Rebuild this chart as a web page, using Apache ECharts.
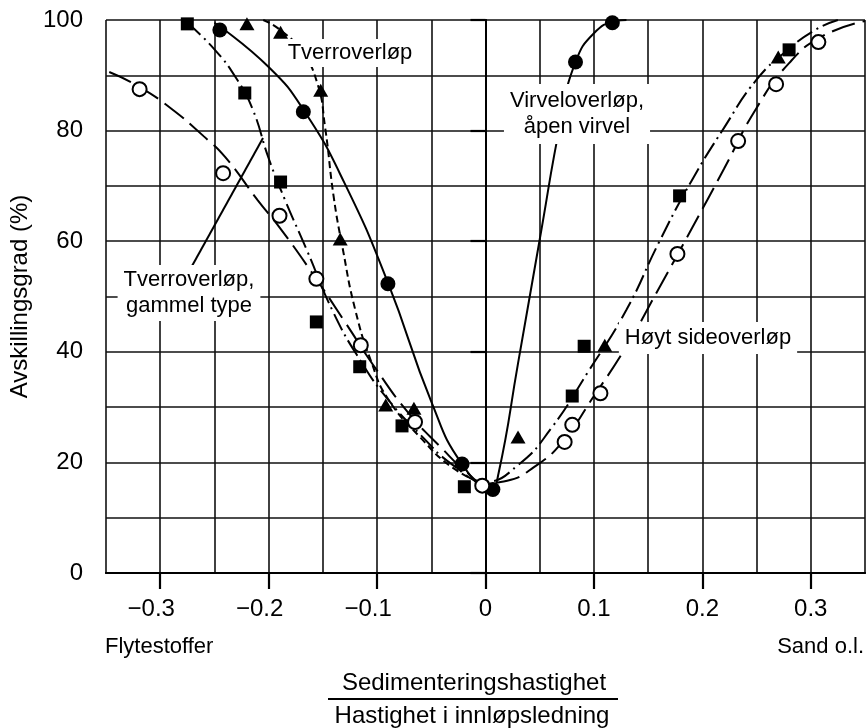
<!DOCTYPE html>
<html>
<head>
<meta charset="utf-8">
<script src="https://cdn.jsdelivr.net/npm/echarts@6/dist/echarts.min.js"></script>
<style>
html, body { margin: 0; padding: 0; background: #fff; }
#chart { width: 866px; height: 728px; }
</style>
</head>
<body>
<div id="chart"></div>
<script>
var FONT = "'Liberation Sans', Arial, Helvetica, sans-serif";

/* målepunkter (markører) */
var virvelX = [-0.245, -0.168, -0.090, -0.0216, 0.0068, 0.083, 0.117];
var virvelY = [98.2, 83.4, 52.3, 19.7, 15.1, 92.4, 99.5];
var tverrX = [-0.220, -0.189, -0.152, -0.134, -0.092, -0.066, 0.030, 0.110, 0.270];
var tverrY = [99.3, 97.8, 87.3, 60.4, 30.4, 29.8, 24.6, 41.2, 93.3];
var gammelX = [-0.275, -0.222, -0.189, -0.156, -0.116, -0.077, -0.0195, 0.080, 0.091, 0.179, 0.280];
var gammelY = [99.3, 86.8, 70.7, 45.4, 37.3, 26.6, 15.6, 32.0, 41.0, 68.2, 94.6];
var hoytX = [-0.319, -0.242, -0.190, -0.156, -0.115, -0.065, -0.003, 0.073, 0.080, 0.106, 0.177, 0.233, 0.268, 0.307];
var hoytY = [87.5, 72.3, 64.6, 53.2, 41.2, 27.3, 15.8, 23.7, 26.8, 32.5, 57.7, 78.1, 88.4, 96.0];

/* tilpassede kurver, lest av figuren */
var virvelCurveX = [-0.25, -0.2, -0.167, -0.13, -0.09, -0.05, -0.022, 0.005, 0.012, 0.03, 0.05, 0.07, 0.083, 0.1, 0.12, 0.13];
var virvelCurveY = [99.5, 91.5, 83.5, 70.5, 52.5, 31, 19.8, 15.3, 18, 37.9, 60.3, 82.3, 92.4, 97.6, 99.8, 100];
var tverrCurveX = [-0.205, -0.19, -0.17, -0.155, -0.148, -0.14, -0.132, -0.12, -0.105, -0.09, -0.06, -0.03, 0];
var tverrCurveY = [100, 98.3, 94.5, 88.5, 80.7, 68, 59, 47.5, 38, 31.5, 24.5, 19, 16];
var gammelCurveX = [-0.275, -0.25, -0.23, -0.215, -0.2, -0.185, -0.165, -0.14, -0.115, -0.09, -0.06, -0.03, 0, 0.03, 0.06, 0.095, 0.13, 0.16, 0.19, 0.22, 0.25, 0.28, 0.305, 0.325];
var gammelCurveY = [99.5, 94.7, 89.5, 84, 75, 67.5, 58.5, 47, 38.3, 31.4, 25, 19.5, 16.5, 19.5, 26, 36.5, 47.6, 59.8, 70.9, 80.5, 89.2, 94.8, 98.3, 100];
var hoytCurveX = [-0.347, -0.32, -0.29, -0.26, -0.24, -0.21, -0.19, -0.16, -0.13, -0.1, -0.07, -0.04, -0.02, 0, 0.02, 0.045, 0.07, 0.1, 0.13, 0.16, 0.19, 0.22, 0.25, 0.28, 0.31, 0.35];
var hoytCurveY = [90.6, 88, 84, 79, 75.2, 67.4, 62.5, 54.3, 45.5, 36.6, 28.7, 22.5, 18.7, 16.3, 16.7, 19.2, 23.5, 32, 41, 51.5, 62.2, 73.1, 84.1, 92.2, 97, 99.8];

/* akser */
var xTicks = [-0.3, -0.2, -0.1, 0, 0.1, 0.2, 0.3];
var yTicks = [0, 20, 40, 60, 80, 100];

function pairs(xs, ys) {
    return xs.map(function (x, i) { return [x, ys[i]]; });
}

var myChart = echarts.init(document.getElementById('chart'));

function curve(name, xs, ys, dash) {
    return {
        name: name,
        type: 'line',
        data: pairs(xs, ys),
        showSymbol: false,
        smooth: 0.5,
        z: 3,
        lineStyle: { color: '#000', width: 2, type: dash },
        silent: true
    };
}

function points(name, xs, ys, symbol, size, fill) {
    return {
        name: name,
        type: 'scatter',
        data: pairs(xs, ys),
        symbol: symbol,
        symbolSize: size,
        z: 5,
        itemStyle: { color: fill, opacity: 1, borderColor: '#000', borderWidth: fill === '#fff' ? 2 : 0 }
    };
}

var gridLine = { show: true, lineStyle: { color: '#111', width: 1.6 } };

var option = {
    animation: false,
    backgroundColor: '#fff',
    textStyle: { fontFamily: FONT, color: '#000' },
    grid: { left: 106, right: 1, top: 20, bottom: 155, outerBoundsMode: 'none' },
    xAxis: [{
        type: 'value',
        min: -0.35,
        max: 0.35,
        interval: 0.05,
        position: 'bottom',
        axisLine: { show: true, lineStyle: { color: '#000', width: 2 } },
        splitLine: { show: false },
        axisTick: { show: true, customValues: xTicks, length: 16, lineStyle: { color: '#000', width: 2.2 } },
        axisLabel: {
            customValues: xTicks,
            margin: 24,
            fontSize: 24,
            color: '#000',
            fontFamily: FONT,
            formatter: function (v) {
                if (Math.abs(v) < 1e-9) return '0';
                if (v < 0) return '{neg|\u2212' + Math.abs(v).toFixed(1) + '}';
                return v.toFixed(1);
            },
            rich: { neg: { fontSize: 24, fontFamily: FONT, color: '#000', padding: [0, 18, 0, 0] } }
        }
    }, {
        // bare rutenettet, hver 0.05
        type: 'value',
        min: -0.35,
        max: 0.35,
        interval: 0.05,
        position: 'top',
        axisLine: { show: true, lineStyle: { color: '#000', width: 2 } },
        axisTick: { show: false },
        axisLabel: { show: false },
        splitLine: gridLine
    }],
    yAxis: [{
        type: 'value',
        min: 0,
        max: 100,
        interval: 10,
        position: 'left',
        name: 'Avskillingsgrad (%)',
        nameLocation: 'middle',
        nameGap: 70,
        nameTextStyle: { fontSize: 24, color: '#000', fontFamily: FONT },
        axisLine: { show: true, lineStyle: { color: '#000', width: 2 } },
        splitLine: { show: false },
        axisTick: { show: true, customValues: yTicks, length: 15, lineStyle: { color: '#000', width: 2.2 } },
        axisLabel: { customValues: yTicks, margin: 23, fontSize: 24, color: '#000', fontFamily: FONT }
    }, {
        // bare rutenettet, hver 10
        type: 'value',
        min: 0,
        max: 100,
        interval: 10,
        position: 'right',
        axisLine: { show: true, lineStyle: { color: '#000', width: 2 } },
        axisTick: { show: false },
        axisLabel: { show: false },
        splitLine: gridLine
    }],
    series: [
        curve('Virveloverløp, åpen virvel', virvelCurveX, virvelCurveY, 'solid'),
        curve('Tverroverløp', tverrCurveX, tverrCurveY, [7, 4]),
        curve('Tverroverløp, gammel type', gammelCurveX, gammelCurveY, [18, 5, 2, 5]),
        curve('Høyt sideoverløp', hoytCurveX, hoytCurveY, [24, 8]),
        points('Virveloverløp, åpen virvel', virvelX, virvelY, 'circle', 15, '#000'),
        points('Tverroverløp', tverrX, tverrY, 'triangle', [15, 13], '#000'),
        points('Tverroverløp, gammel type', gammelX, gammelY, 'rect', 13, '#000'),
        points('Høyt sideoverløp', hoytX, hoytY, 'circle', 14, '#fff')
    ],
    graphic: [
        { type: 'line', z: 90, shape: { x1: 192, y1: 266, x2: 263, y2: 138 }, style: { stroke: '#000', lineWidth: 2 } },
        { type: 'text', z: 100, x: 350, y: 53, style: { text: 'Tverroverløp', font: '22px ' + FONT, fill: '#000', align: 'center', verticalAlign: 'middle', backgroundColor: '#fff', padding: [3, 4] } },
        { type: 'text', z: 100, x: 577, y: 114, style: { text: 'Virveloverløp,\nåpen virvel', font: '22px ' + FONT, lineHeight: 26, fill: '#000', align: 'center', verticalAlign: 'middle', backgroundColor: '#fff', padding: [4, 6] } },
        { type: 'text', z: 100, x: 189, y: 293, style: { text: 'Tverroverløp,\ngammel type', font: '22px ' + FONT, lineHeight: 26, fill: '#000', align: 'center', verticalAlign: 'middle', backgroundColor: '#fff', padding: [2, 6] } },
        { type: 'text', z: 100, x: 708, y: 338, style: { text: 'Høyt sideoverløp', font: '22px ' + FONT, fill: '#000', align: 'center', verticalAlign: 'middle', backgroundColor: '#fff', padding: [5, 6] } },
        { type: 'text', z: 100, x: 105, y: 647, style: { text: 'Flytestoffer', font: '22px ' + FONT, fill: '#000', align: 'left', verticalAlign: 'middle' } },
        { type: 'text', z: 100, x: 864, y: 647, style: { text: 'Sand o.l.', font: '22px ' + FONT, fill: '#000', align: 'right', verticalAlign: 'middle' } },
        { type: 'text', z: 100, x: 474, y: 683, style: { text: 'Sedimenteringshastighet', font: '24px ' + FONT, fill: '#000', align: 'center', verticalAlign: 'middle' } },
        { type: 'line', z: 100, shape: { x1: 328, y1: 699, x2: 618, y2: 699 }, style: { stroke: '#000', lineWidth: 2 } },
        { type: 'text', z: 100, x: 472, y: 716, style: { text: 'Hastighet i innløpsledning', font: '24px ' + FONT, fill: '#000', align: 'center', verticalAlign: 'middle' } }
    ]
};
myChart.setOption(option);
</script>
</body>
</html>
